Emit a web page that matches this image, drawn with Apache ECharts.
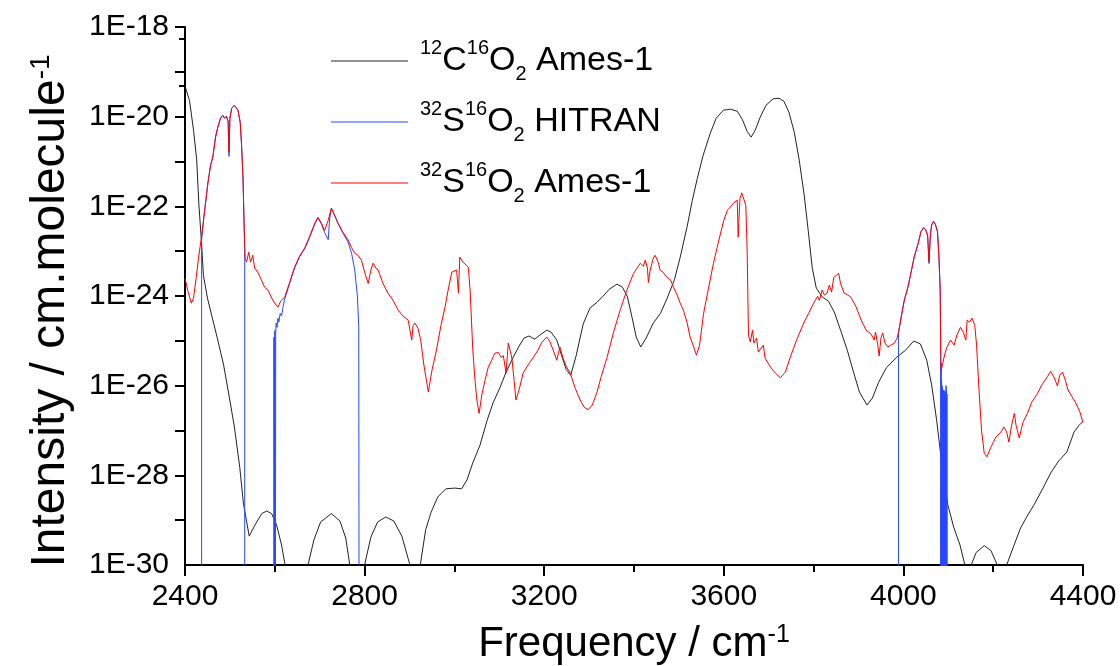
<!DOCTYPE html>
<html><head><meta charset="utf-8">
<script src="https://cdn.jsdelivr.net/npm/echarts@6/dist/echarts.min.js"></script>
<style>html,body{margin:0;padding:0;background:#fff}#c{width:1120px;height:666px}</style>
</head><body><div id="c"></div>
<script>
// ---------- data ----------
const co2Freq = [2400,2410,2419,2426,2431,2436,2441,2450,2461,2472,2486,2499,2510,2522,2530,2543,2557,2571,2582,2593,2604,2615,2623,2648,2674,2687,2702,2726,2745,2758,2767,2783,2800,2814,2829,2847,2865,2883,2901,2912,2924,2936,2948,2963,2981,3001,3016,3028,3041,3057,3073,3086,3102,3115,3131,3144,3155,3166,3179,3193,3206,3215,3228,3240,3249,3259,3271,3287,3302,3318,3331,3345,3362,3374,3385,3396,3405,3415,3427,3443,3459,3474,3490,3503,3518,3530,3541,3554,3570,3583,3599,3615,3630,3641,3652,3661,3670,3681,3694,3710,3723,3734,3745,3757,3768,3779,3788,3797,3806,3819,3833,3846,3860,3875,3889,3902,3919,3931,3945,3962,3985,4005,4023,4038,4052,4063,4074,4085,4099,4112,4126,4137,4144,4151,4162,4180,4195,4209,4219,4230,4246,4261,4277,4291,4311,4328,4346,4364,4380,4391,4400];
const co2Int = [4.8e-20,2.3e-20,5.0e-21,1.1e-21,1.06e-22,2.05e-23,2.9e-24,9.0e-25,3.2e-25,1.15e-25,2.9e-26,5.3e-27,1.2e-27,1.5e-28,2.4e-29,4.4e-30,8.2e-30,1.4e-29,1.6e-29,1.4e-29,7.8e-30,2.8e-30,1e-30,1e-33,1e-30,3.6e-30,9.1e-30,1.4e-29,9.6e-30,4.0e-30,1e-30,1e-33,1e-30,4.2e-30,9.1e-30,1.18e-29,9.6e-30,4.4e-30,1e-30,1e-33,1e-30,6.1e-30,1.5e-29,3.3e-29,5.0e-29,5.2e-29,5.0e-29,7.9e-29,1.9e-28,4.7e-28,1.7e-27,4.1e-27,9.3e-27,2.0e-26,4.3e-26,7.6e-26,1.15e-25,1.28e-25,1.09e-25,1.41e-25,1.73e-25,1.57e-25,1.04e-25,4.3e-26,2.3e-26,1.7e-26,4.6e-26,2.4e-25,5.4e-25,7.3e-25,9.9e-25,1.42e-24,1.84e-24,1.58e-24,9.9e-25,3.2e-25,1.21e-25,7.3e-26,1.15e-25,2.5e-25,4.1e-25,9.0e-25,2.3e-24,7.4e-24,3.4e-23,1.37e-22,4.2e-22,1.38e-21,4.3e-21,9.2e-21,1.39e-20,1.47e-20,1.32e-20,8.8e-21,4.7e-21,3.5e-21,5.0e-21,9.7e-21,1.8e-20,2.5e-20,2.58e-20,2.2e-20,1.26e-20,4.5e-21,1.07e-21,1.8e-22,2.9e-23,4.2e-24,1.5e-24,9.6e-25,7.7e-25,4.4e-25,1.73e-25,6.2e-26,2.0e-26,7.2e-27,3.7e-27,5.3e-27,1.2e-26,2.5e-26,4.3e-26,6.2e-26,9.9e-26,8.5e-26,3.7e-26,1.03e-26,1.7e-27,2.0e-28,2.2e-29,7.0e-30,2.8e-30,1e-30,1e-31,1e-30,1.9e-30,2.7e-30,2.1e-30,1e-30,1e-31,1e-30,2.7e-30,6.7e-30,1.3e-29,2.2e-29,5.2e-29,1.13e-28,2.1e-28,3.3e-28,9.2e-28,1.3e-27,1.6e-27];

const so2HitranFreq = [2437,2437,2443,2451,2457,2462,2468,2473,2479,2484,2488,2492,2496,2498,2500,2504,2510,2518,2523,2526,2529,2532,2533,2533,
2598,2598,2599,2600,2601,2602,2603,2605,2607,2609,2612,2615,2618,2622,2633,2644,2655,2667,2678,2689,2696,2704,2711,2719,2722,2726,2733,2741,2751,2763,2771,2778,2784,2787,2788,
3989,3989,3995,4002,4010,4017,4024,4033,4039,4045,4050,4054,4057,4060,4063,4067,4071,4076,4079,4082,4083,4083,4084,4084.5,4085,4085.5,4086,4086.5,4087,4087.5,4088,4088.5,4089,4089.5,4090,4090.5,4091,4091.5,4092,4092.5,4093,4093.5,4094,4094.5,4095,4095.5,4096,4096.5,4097,4097.5];
const so2HitranInt = [1e-35,1.8e-23,7.0e-23,3.3e-22,8.3e-22,1.25e-21,3.5e-21,5.8e-21,9.2e-21,1.08e-20,9.2e-21,1.02e-20,7.9e-21,1.3e-21,9.2e-21,1.54e-20,1.8e-20,1.39e-20,7.5e-21,2.3e-21,4.9e-22,2.9e-23,7.0e-24,1e-35,
1e-35,1.2e-25,1e-35,1.7e-25,1e-35,1.5e-25,2.5e-25,2.0e-25,3.2e-25,2.6e-25,4.1e-25,3.6e-25,5.5e-25,8.5e-25,1.9e-24,4.2e-24,7.5e-24,1.15e-23,2.1e-23,4.0e-23,5.5e-23,4.0e-23,2.6e-23,1.8e-23,5.0e-23,9.0e-23,6.3e-23,4.1e-23,2.6e-23,1.6e-23,9.0e-24,3.8e-24,1.0e-24,2.0e-25,1e-35,
1e-35,1.5e-25,3.3e-25,8.0e-25,1.55e-24,3.3e-24,7.3e-24,1.5e-23,2.7e-23,3.4e-23,3.0e-23,2.2e-23,5.3e-24,2.3e-23,3.9e-23,4.7e-23,4.1e-23,2.7e-23,8.0e-24,1.3e-24,1.0e-25,1e-35,3.2e-26,1e-35,1.3e-26,1e-35,1.0e-26,1e-35,9e-27,1e-35,8e-27,1e-35,7e-27,1e-35,8e-27,1e-35,6.5e-27,1e-35,7.5e-27,1e-35,6.2e-27,1e-35,7e-27,1e-35,1.0e-26,1e-35,8e-27,1e-35,6.5e-27,1e-35];

const so2AmesFreq = [2400,2406,2414,2419,2425,2430,2436,2443,2451,2457,
2462,2468,2473,2479,2484,2488,2492,2496,2498,2500,
2504,2510,2518,2523,2526,2529,2532,2534,2537,2542,
2546,2551,2555,2562,2570,2577,2585,2593,2600,2607,
2613,2622,2633,2644,2655,2667,2678,2689,2696,2704,
2711,2719,2726,2733,2741,2751,2763,2771,2778,2785,
2793,2800,2808,2814,2819,2825,2830,2841,2852,2863,
2875,2885,2897,2905,2908,2912,2919,2925,2932,2942,
2950,2960,2970,2979,2986,2994,3005,3009,3012,3019,
3023,3031,3035,3038,3041,3046,3050,3055,3061,3068,
3075,3083,3090,3098,3104,3109,3115,3120,3124,3128,
3133,3137,3144,3153,3164,3176,3186,3195,3206,3213,
3220,3228,3232,3235,3242,3249,3258,3269,3280,3289,
3298,3307,3317,3327,3340,3354,3369,3384,3399,3407,
3414,3421,3425,3430,3432,3436,3443,3447,3454,3458,
3465,3473,3481,3488,3496,3503,3510,3518,3525,3533,
3539,3546,3555,3566,3577,3588,3600,3608,3615,3621,
3630,3632,3636,3640,3644,3649,3652,3655,3659,3664,
3667,3673,3677,3681,3688,3692,3704,3715,3726,3737,
3748,3762,3778,3789,3800,3809,3813,3819,3824,3830,
3835,3840,3845,3851,3856,3860,3868,3876,3883,3894,
3906,3917,3928,3935,3938,3943,3946,3950,3954,3959,
3965,3972,3980,3986,3990,3995,4002,4010,4017,4024,
4033,4039,4045,4050,4054,4057,4060,4063,4067,4071,
4076,4079,4082,4083,4084,4087,4090,4096,4105,4113,
4119,4127,4134,4139,4142,4147,4153,4159,4163,4168,
4174,4180,4186,4195,4206,4217,4224,4230,4235,4241,
4247,4251,4258,4266,4276,4286,4299,4308,4321,4328,
4336,4343,4348,4354,4360,4366,4373,4384,4393,4400];
const so2AmesInt = [2.5e-24,1.35e-24,6.9e-25,9.0e-25,2.6e-24,7.0e-24,1.8e-23,7.0e-23,3.3e-22,8.3e-22,
1.25e-21,3.5e-21,5.8e-21,9.2e-21,1.08e-20,9.2e-21,1.02e-20,7.9e-21,1.6e-21,9.2e-21,
1.54e-20,1.8e-20,1.39e-20,7.5e-21,2.3e-21,4.9e-22,2.9e-23,7.0e-24,5.7e-24,9.5e-24,
5.7e-24,8.1e-24,4.2e-24,3.4e-24,2.3e-24,1.58e-24,1.35e-24,9.0e-25,6.9e-25,5.6e-25,
7.7e-25,9.4e-25,2.0e-24,4.4e-24,7.7e-24,1.2e-23,2.2e-23,4.2e-23,5.7e-23,4.2e-23,
2.9e-23,4.9e-23,9.1e-23,6.4e-23,4.2e-23,2.7e-23,1.8e-23,1.2e-23,9.0e-24,8.1e-24,
6.3e-24,3.4e-24,1.9e-24,3.8e-24,5.4e-24,4.2e-24,3.8e-24,1.9e-24,1.16e-24,8.1e-25,
4.8e-25,3.6e-25,2.9e-25,1.04e-25,2.2e-25,2.5e-25,1.9e-25,1.04e-25,2.9e-26,7.2e-27,
2.2e-26,6.2e-26,2.2e-25,5.6e-25,1.35e-24,3.4e-24,3.8e-24,1.16e-24,7.4e-24,5.7e-24,
5.7e-24,4.4e-24,1.35e-24,2.9e-25,6.2e-26,1.3e-26,4.8e-27,2.4e-27,6.2e-27,1.3e-26,
2.5e-26,3.7e-26,5.3e-26,5.5e-26,4.3e-26,4.7e-26,1.9e-26,8.9e-26,6.2e-26,4.1e-26,
1.3e-26,4.8e-27,8.0e-27,1.9e-26,2.9e-26,4.3e-26,6.2e-26,9.4e-26,1.21e-25,9.4e-26,
6.2e-26,3.7e-26,5.6e-26,7.3e-26,4.1e-26,2.7e-26,1.9e-26,8.8e-27,4.8e-27,3.3e-27,
2.9e-27,3.7e-27,6.8e-27,1.6e-26,4.3e-26,1.5e-25,4.8e-25,1.35e-24,3.2e-24,4.2e-24,
5.4e-24,4.6e-24,6.3e-24,4.2e-24,2.0e-24,3.8e-24,7.0e-24,8.1e-24,5.7e-24,3.8e-24,
3.4e-24,2.6e-24,2.3e-24,1.58e-24,1.05e-24,6.9e-25,4.8e-25,2.6e-25,1.21e-25,7.3e-26,
4.8e-26,8.0e-26,4.1e-25,1.5e-24,5.4e-24,1.6e-23,4.9e-23,8.2e-23,9.7e-23,1.17e-22,
1.37e-22,2.05e-23,1.5e-22,2.0e-22,2.0e-22,1.06e-22,1.05e-23,1.34e-25,9.4e-26,1.73e-25,
8.9e-26,1.15e-25,5.6e-26,6.2e-26,8.0e-26,4.1e-26,2.6e-26,1.9e-26,1.5e-26,2.0e-26,
4.3e-26,1.04e-25,2.5e-25,4.1e-25,6.9e-25,9.9e-25,8.0e-25,1.35e-24,1.05e-24,1.16e-24,
1.75e-24,1.22e-24,2.6e-24,2.9e-24,3.2e-24,1.9e-24,1.16e-24,1.05e-24,9.4e-25,5.9e-25,
2.9e-25,1.73e-25,1.41e-25,1.04e-25,1.57e-25,8.0e-26,4.6e-26,1.15e-25,1.5e-25,8.9e-26,
7.3e-26,8.0e-26,8.9e-26,1.15e-25,1.73e-25,3.4e-25,8.1e-25,1.58e-24,3.4e-24,7.4e-24,
1.5e-23,2.7e-23,3.3e-23,2.9e-23,2.2e-23,5.7e-24,2.2e-23,3.8e-23,4.5e-23,4.0e-23,
2.7e-23,8.1e-24,1.35e-24,6.2e-26,2.2e-26,2.9e-26,4.1e-26,6.9e-26,1.04e-25,8.0e-26,
1.34e-25,2.0e-25,1.5e-25,1.04e-25,2.9e-25,2.6e-25,3.2e-25,2.2e-25,8.0e-26,9.3e-27,
1.02e-27,3.1e-28,2.6e-28,4.3e-28,7.1e-28,9.2e-28,1.2e-27,9.2e-28,5.5e-28,1.3e-27,
2.4e-27,1.3e-27,6.8e-28,1.5e-27,2.4e-27,4.3e-27,6.8e-27,1.03e-26,1.6e-26,2.1e-26,
1.5e-26,9.8e-27,1.7e-26,2.0e-26,1.4e-26,8.4e-27,6.2e-27,4.1e-27,2.6e-27,1.5e-27];

const seriesNames = ['CO2 Ames-1', 'SO2 HITRAN', 'SO2 Ames-1'];
const legendLabels = {
  'CO2 Ames-1': '{sup|12}C{sup|16}O{sub|2} Ames-1',
  'SO2 HITRAN': '{sup|32}S{sup|16}O{sub|2} HITRAN',
  'SO2 Ames-1': '{sup|32}S{sup|16}O{sub|2} Ames-1'
};
const xTitle = 'Frequency / cm{sup|-1}';
const yTitle = 'Intensity / cm.molecule{sup|-1}';
const yMin = 1e-30;              // bottom of the intensity axis
const yMax = 1e-18;              // top of the intensity axis
const yBottomLabel = [1e-30];    // tick label at the bottom of the intensity axis

// ---------- chart ----------
const FONT = '"Liberation Sans", Arial, sans-serif';
const zip = (xs, ys) => xs.map((x, i) => [x, ys[i]]);
const expLabel = (v) => { const e = Math.round(Math.log10(v)); return (e % 2 === 0) ? '1E' + e : ''; };

const chart = echarts.init(document.getElementById('c'), null, {renderer: 'canvas'});
const supStyle = (size) => ({fontSize: size, fontFamily: FONT, color: '#000', verticalAlign: 'top', lineHeight: size});
const subStyle = (size) => ({fontSize: size, fontFamily: FONT, color: '#000', verticalAlign: 'bottom', lineHeight: size});
const yLabelStyle = {fontSize: 30, lineHeight: 24, fontFamily: FONT, color: '#000', margin: 16,
  showMinLabel: true, showMaxLabel: true, hideOverlap: false, formatter: expLabel};

chart.setOption({
  animation: false,
  backgroundColor: '#fff',
  grid: {left: 185, right: 37, top: 27, bottom: 101, containLabel: false, outerBoundsMode: 'none'},
  legend: {
    orient: 'vertical', left: 326, top: 33,
    icon: 'rect', itemWidth: 77, itemHeight: 1, itemGap: 15,
    data: seriesNames,
    formatter: (n) => legendLabels[n],
    textStyle: {
      fontSize: 34, fontFamily: FONT, color: '#000', lineHeight: 46, padding: [0, 0, 0, 7],
      rich: {sup: supStyle(20), sub: subStyle(20)}
    }
  },
  xAxis: {
    type: 'value', min: 2400, max: 4400, interval: 400,
    name: xTitle, nameLocation: 'middle', nameGap: 58, nameMoveOverlap: false,
    nameTextStyle: {fontSize: 42, fontFamily: FONT, color: '#000', rich: {sup: supStyle(25)}},
    axisLine: {lineStyle: {color: '#000', width: 2}},
    axisTick: {length: 11, lineStyle: {color: '#000', width: 2}},
    minorTick: {show: true, splitNumber: 2, length: 7, lineStyle: {color: '#000', width: 2}},
    axisLabel: {fontSize: 30, lineHeight: 30, fontFamily: FONT, color: '#000', margin: 17, showMinLabel: true, showMaxLabel: true, hideOverlap: false,
      formatter: (v) => String(v)},
    splitLine: {show: false}
  },
  yAxis: [{
    type: 'log', logBase: 10, min: yMin, max: yMax, interval: 1, position: 'left',
    name: yTitle, nameLocation: 'middle', nameGap: 110, nameMoveOverlap: false,
    nameTextStyle: {fontSize: 48, fontFamily: FONT, color: '#000', padding: [0, 30, 0, 0], rich: {sup: supStyle(28)}},
    axisLine: {show: true, lineStyle: {color: '#000', width: 2}},
    axisTick: {show: true, length: 10, lineStyle: {color: '#000', width: 2}},
    minorTick: {show: true, splitNumber: 2, length: 6, lineStyle: {color: '#000', width: 2}},
    axisLabel: yLabelStyle,
    splitLine: {show: false}
  }, {
    type: 'log', logBase: 10, min: yMin, max: yMax, position: 'left', offset: 0,
    axisLine: {show: false}, axisTick: {show: false}, splitLine: {show: false},
    axisLabel: Object.assign({}, yLabelStyle, {customValues: yBottomLabel})
  }],
  series: [
    {name: seriesNames[0], type: 'line', yAxisIndex: 0, data: zip(co2Freq, co2Int), symbol: 'none', clip: true,
     lineStyle: {color: '#222', width: 1}, itemStyle: {color: '#222'}},
    {name: seriesNames[1], type: 'line', yAxisIndex: 0, data: zip(so2HitranFreq, so2HitranInt), symbol: 'none', clip: true,
     lineStyle: {color: '#2a48ff', width: 1}, itemStyle: {color: '#2a48ff'}},
    {name: seriesNames[2], type: 'line', yAxisIndex: 0, data: zip(so2AmesFreq, so2AmesInt), symbol: 'none', clip: true,
     lineStyle: {color: '#ff0000', width: 1}, itemStyle: {color: '#ff0000'}}
  ]
});
</script>
</body></html>
